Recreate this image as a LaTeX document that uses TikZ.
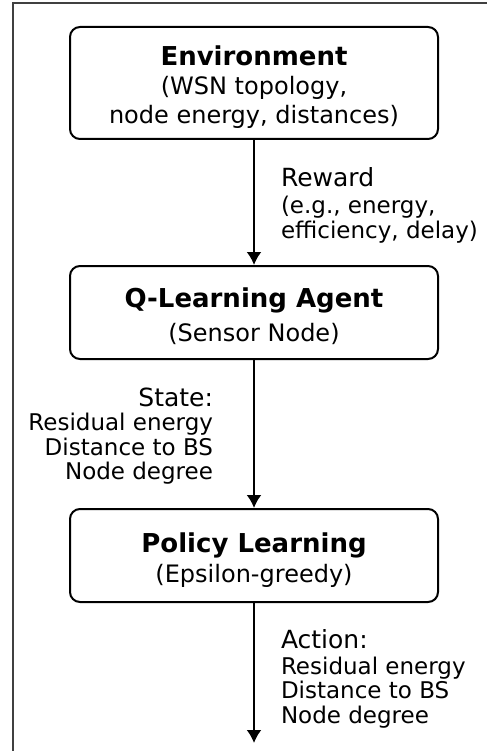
\documentclass[tikz,border=0pt]{standalone}
\usepackage{fontspec}
\setmainfont{DejaVu Sans}
\usetikzlibrary{arrows.meta}
% big bold first line of a box, with a strut so the text sits a bit low
\newcommand{\boxhead}[1]{\rule{0pt}{28pt}{\fontsize{26}{29}\selectfont\bfseries #1}}
\newcommand{\lblhead}[1]{{\fontsize{25}{26}\selectfont #1}}
\begin{document}
\begin{tikzpicture}[>={Latex[length=13pt,width=15pt]}, x=1pt, y=-1pt,
  box/.style={draw, line width=2pt, rounded corners=10pt, minimum width=368pt,
    align=center, font=\fontsize{24}{29}\selectfont},
  lbl/.style={inner sep=0pt, font=\fontsize{23}{24.5}\selectfont}]
\useasboundingbox (0,0) rectangle (487,751);
\draw[line width=1.5pt, black!75](13,751)--(13,3)--(487,3);
% the three stages
\node[box, minimum height=112pt] (env) at (254,83)
  {\boxhead{Environment}\\(WSN topology,\\node energy, distances)};
\node[box, minimum height=93pt] (agent) at (254,312.5)
  {\boxhead{Q-Learning Agent}\\[5pt](Sensor Node)};
\node[box, minimum height=93pt] (policy) at (254,555.5)
  {\boxhead{Policy Learning}\\[1pt](Epsilon-greedy)};
\coordinate (out) at (254,743);
% flows between them
\draw[->, line width=2pt](env)--node[right, lbl, align=left, xshift=26pt, yshift=-2.5pt]
  {\lblhead{Reward}\\[3pt](e.g., energy,\\efficiency, delay)}(agent);
\draw[->, line width=2pt](agent)--node[left, lbl, align=right, xshift=-40pt, yshift=-2pt]
  {\lblhead{State:}\\Residual energy\\Distance to BS\\Node degree}(policy);
\draw[->, line width=2pt](policy)--node[right, lbl, align=left, xshift=26pt, yshift=-6pt]
  {\lblhead{Action:}\\[1pt]Residual energy\\Distance to BS\\Node degree}(out);
\end{tikzpicture}
\end{document}
